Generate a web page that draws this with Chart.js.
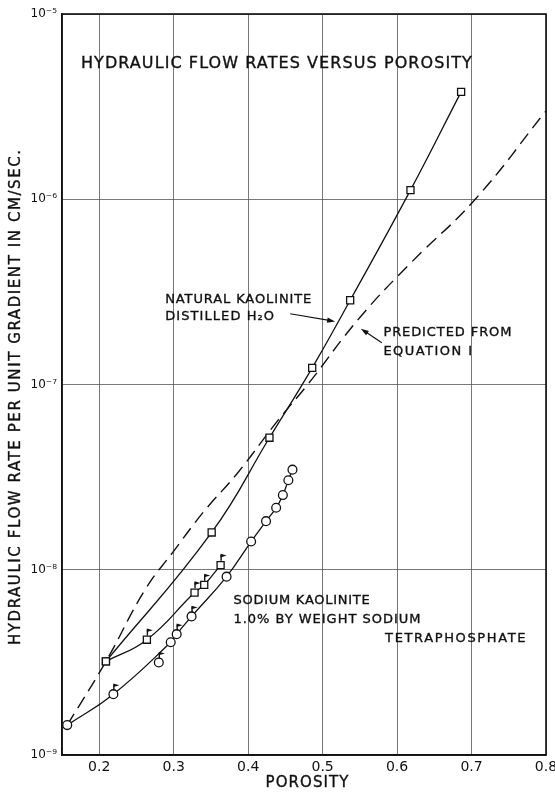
<!DOCTYPE html>
<html>
<head>
<meta charset="utf-8">
<script src="https://cdn.jsdelivr.net/npm/chart.js@4"></script>
<style>
  html, body { margin: 0; padding: 0; background: #ffffff; }
  #wrap { width: 555px; height: 793px; }
</style>
</head>
<body>
<div id="wrap"><canvas id="c" width="555" height="793"></canvas></div>
<script>
// ---------- data ----------
const xTicks = [0.2, 0.3, 0.4, 0.5, 0.6, 0.7, 0.8];
const yTicks = [1e-9, 1e-8, 1e-7, 1e-6, 1e-5];

// Natural kaolinite, distilled H2O (open squares, solid line)
const porosityNatural = [0.209, 0.351, 0.4286, 0.486, 0.537, 0.618, 0.686];
const flowNatural     = [3.2e-9, 1.59e-8, 5.16e-8, 1.23e-7, 2.85e-7, 1.12e-6, 3.8e-6];

// Sodium kaolinite, squares (lower square curve)
const porositySodiumSq = [0.209, 0.264, 0.328, 0.341, 0.363];
const flowSodiumSq     = [3.2e-9, 4.19e-9, 7.53e-9, 8.28e-9, 1.06e-8];
const flaggedSodiumSq  = [0.264, 0.328, 0.341, 0.363];

// Sodium kaolinite, circles
const porositySodiumCirc = [0.157, 0.219, 0.296, 0.304, 0.324, 0.371, 0.404, 0.424, 0.4376, 0.4466, 0.454, 0.4595];
const flowSodiumCirc     = [1.45e-9, 2.13e-9, 4.06e-9, 4.49e-9, 5.6e-9, 9.18e-9, 1.42e-8, 1.83e-8, 2.16e-8, 2.53e-8, 3.04e-8, 3.47e-8];
const flaggedSodiumCirc  = [0.219, 0.304, 0.324];

// Circle lying off the fitted curve
const porosityOffCurve = [0.28];
const flowOffCurve     = [3.16e-9];
const flaggedOffCurve  = [0.28];

// Predicted from equation 1 (dashed)
const porosityPredicted = [0.157, 0.209, 0.262, 0.30, 0.34, 0.385, 0.44, 0.48, 0.55, 0.62, 0.705, 0.80];
const flowPredicted     = [1.45e-9, 3.2e-9, 7.85e-9, 1.26e-8, 2.05e-8, 3.3e-8, 6.4e-8, 1.0e-7, 2.3e-7, 4.6e-7, 1.0e-6, 3.0e-6];

// ---------- helpers ----------
const zip = (xs, ys) => xs.map((x, i) => ({ x: x, y: ys[i] }));
const FONT = "'DejaVu Sans', 'Liberation Sans', sans-serif";
const INK = '#111111';
const SUP = { '-': '\u207B', '0': '\u2070', '1': '\u00B9', '2': '\u00B2', '3': '\u00B3', '4': '\u2074', '5': '\u2075', '6': '\u2076', '7': '\u2077', '8': '\u2078', '9': '\u2079' };
const powLabel = v => {
  const e = String(Math.round(Math.log10(v)));
  return '10' + e.split('').map(ch => SUP[ch]).join('');
};

// annotation texts anchored in data coordinates [porosity, flow]
const notes = [
  { text: 'HYDRAULIC FLOW RATES VERSUS POROSITY', at: [0.1754, 5.40e-6], size: 16, width: 392 },
  { text: 'NATURAL KAOLINITE', at: [0.2886, 2.87e-7], size: 13, width: 147 },
  { text: 'DISTILLED H\u2082O', at: [0.2886, 2.33e-7], size: 13, width: 110 },
  { text: 'PREDICTED FROM', at: [0.5816, 1.90e-7], size: 13, width: 129 },
  { text: 'EQUATION I', at: [0.5816, 1.51e-7], size: 13, width: 90 },
  { text: 'SODIUM KAOLINITE', at: [0.3803, 6.79e-9], size: 13, width: 137 },
  { text: '1.0% BY WEIGHT SODIUM', at: [0.3803, 5.41e-9], size: 13, width: 188 },
  { text: 'TETRAPHOSPHATE', at: [0.5839, 4.26e-9], size: 13, width: 142 }
];
const arrows = [
  { from: [0.4564, 2.41e-7], to: [0.5168, 2.19e-7] },
  { from: [0.5795, 1.68e-7], to: [0.5513, 2.00e-7] }
];

function fittedText(ctx, text, x, y, size, width, align) {
  ctx.font = size + 'px ' + FONT;
  ctx.letterSpacing = '0px';
  const w0 = ctx.measureText(text).width;
  const ls = (width - w0) / text.length;
  ctx.letterSpacing = ls.toFixed(2) + 'px';
  ctx.textAlign = align || 'left';
  ctx.textBaseline = 'middle';
  const xx = align === 'center' ? x + ls / 2 : x;
  ctx.fillText(text, xx, y);
  ctx.lineWidth = 0.35;
  ctx.strokeStyle = INK;
  ctx.strokeText(text, xx, y);
  ctx.letterSpacing = '0px';
}

const decor = {
  id: 'decor',
  afterDraw(chart) {
    const ctx = chart.ctx;
    const a = chart.chartArea;
    const sx = chart.scales.x, sy = chart.scales.y;
    const P = (pt) => [sx.getPixelForValue(pt[0]), sy.getPixelForValue(pt[1])];
    ctx.save();
    // frame
    ctx.strokeStyle = INK;
    ctx.lineWidth = 1.6;
    ctx.strokeRect(a.left, a.top, a.right - a.left, a.bottom - a.top);

    // flags on marked points
    chart.data.datasets.forEach((ds, di) => {
      if (!ds.flagged) return;
      const meta = chart.getDatasetMeta(di);
      ds.data.forEach((p, i) => {
        if (ds.flagged.indexOf(p.x) < 0) return;
        const el = meta.data[i];
        const r = ds.pointRadius || 4;
        const top = el.y - r * 0.85;
        ctx.beginPath();
        ctx.lineWidth = 1.4;
        ctx.strokeStyle = INK;
        ctx.moveTo(el.x + 0.5, top);
        ctx.lineTo(el.x + 0.5, top - 6);
        ctx.stroke();
        ctx.beginPath();
        ctx.moveTo(el.x, top - 7);
        ctx.lineTo(el.x + 6, top - 5.2);
        ctx.lineTo(el.x, top - 3.4);
        ctx.closePath();
        ctx.fillStyle = INK;
        ctx.fill();
      });
    });

    // annotation texts
    ctx.fillStyle = INK;
    notes.forEach(n => {
      const p = P(n.at);
      fittedText(ctx, n.text, p[0], p[1], n.size, n.width, 'left');
    });

    // arrows
    arrows.forEach(ar => {
      const f = P(ar.from), t = P(ar.to);
      const ang = Math.atan2(t[1] - f[1], t[0] - f[0]);
      ctx.beginPath();
      ctx.lineWidth = 1.2;
      ctx.strokeStyle = INK;
      ctx.moveTo(f[0], f[1]);
      ctx.lineTo(t[0] - 6 * Math.cos(ang), t[1] - 6 * Math.sin(ang));
      ctx.stroke();
      ctx.beginPath();
      ctx.moveTo(t[0], t[1]);
      ctx.lineTo(t[0] - 8 * Math.cos(ang) + 2.6 * Math.sin(ang), t[1] - 8 * Math.sin(ang) - 2.6 * Math.cos(ang));
      ctx.lineTo(t[0] - 8 * Math.cos(ang) - 2.6 * Math.sin(ang), t[1] - 8 * Math.sin(ang) + 2.6 * Math.cos(ang));
      ctx.closePath();
      ctx.fillStyle = INK;
      ctx.fill();
    });

    // axis titles
    fittedText(ctx, 'POROSITY', (a.left + a.right) / 2 + 3, a.bottom + 28, 15, 84, 'center');
    ctx.save();
    ctx.translate(16, (a.top + a.bottom) / 2 + 13);
    ctx.rotate(-Math.PI / 2);
    fittedText(ctx, 'HYDRAULIC FLOW RATE PER UNIT GRADIENT IN CM/SEC.', 0, 0, 15, 497, 'center');
    ctx.restore();
    ctx.restore();
  }
};

const lineStyle = { borderColor: INK, borderWidth: 1.3, showLine: true, tension: 0.45, fill: false };
const sqPoint = { pointStyle: 'rect', pointRadius: 5, pointBackgroundColor: '#ffffff', pointBorderColor: INK, pointBorderWidth: 1.3 };
const ciPoint = { pointStyle: 'circle', pointRadius: 4.4, pointBackgroundColor: '#ffffff', pointBorderColor: INK, pointBorderWidth: 1.3 };

new Chart(document.getElementById('c'), {
  type: 'scatter',
  data: {
    datasets: [
      Object.assign({ label: 'Natural kaolinite, distilled H2O', data: zip(porosityNatural, flowNatural) }, lineStyle, sqPoint),
      Object.assign({ label: 'Sodium kaolinite (squares)', data: zip(porositySodiumSq, flowSodiumSq), flagged: flaggedSodiumSq }, lineStyle, sqPoint),
      Object.assign({ label: 'Sodium kaolinite (circles)', data: zip(porositySodiumCirc, flowSodiumCirc), flagged: flaggedSodiumCirc }, lineStyle, ciPoint),
      Object.assign({ label: 'Sodium kaolinite (off curve)', data: zip(porosityOffCurve, flowOffCurve), flagged: flaggedOffCurve }, ciPoint, { showLine: false }),
      Object.assign({ label: 'Predicted from equation 1', data: zip(porosityPredicted, flowPredicted) }, lineStyle, { borderDash: [13, 7], pointRadius: 0, borderWidth: 1.4 })
    ]
  },
  options: {
    responsive: false,
    devicePixelRatio: 1,
    animation: false,
    layout: { padding: { left: 0, right: 9, top: 14, bottom: 0 } },
    plugins: { legend: { display: false }, tooltip: { enabled: false } },
    scales: {
      x: {
        type: 'linear', min: 0.15, max: 0.8,
        afterBuildTicks: s => { s.ticks = xTicks.map(v => ({ value: v })); },
        afterFit: s => { s.height = 38; s.paddingLeft = 0; s.paddingRight = 0; },
        grid: { color: '#555555', lineWidth: 0.8, drawTicks: false },
        border: { display: true, color: INK, width: 1.6 },
        ticks: {
          autoSkip: false, maxRotation: 0, padding: 4, color: INK,
          font: { family: FONT, size: 14 },
          callback: v => v.toFixed(1)
        }
      },
      y: {
        type: 'logarithmic', min: 1e-9, max: 1e-5,
        afterBuildTicks: s => { s.ticks = yTicks.map(v => ({ value: v })); },
        afterFit: s => { s.width = 62; s.paddingTop = 0; s.paddingBottom = 0; },
        grid: { color: '#555555', lineWidth: 0.8, drawTicks: false },
        border: { display: true, color: INK, width: 1.6 },
        ticks: {
          autoSkip: false, padding: 5, color: INK,
          font: { family: FONT, size: 12 },
          callback: v => powLabel(v)
        }
      }
    }
  },
  plugins: [decor]
});
</script>
</body>
</html>
